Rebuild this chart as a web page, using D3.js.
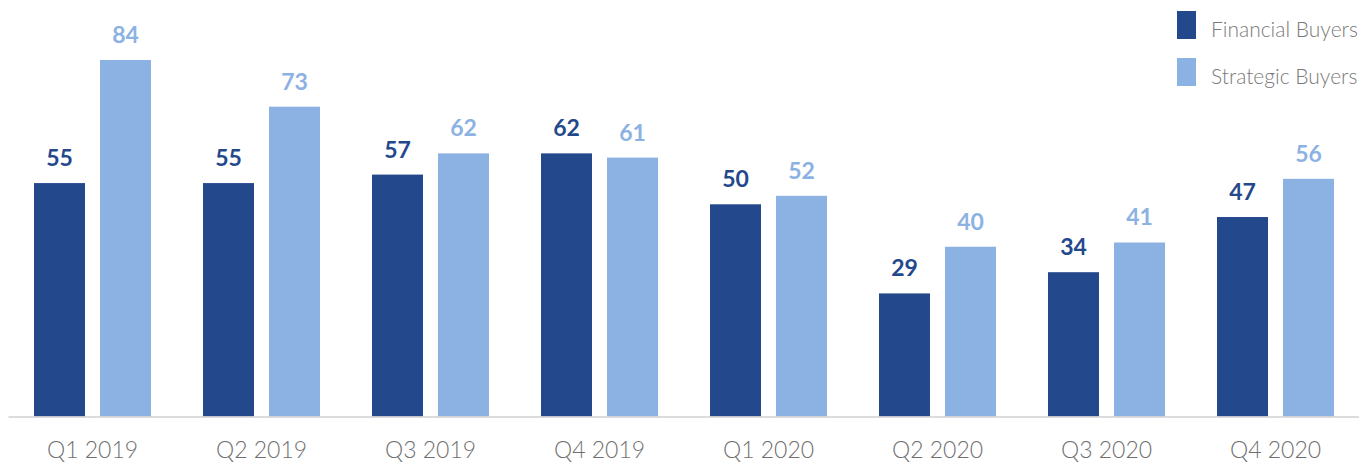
<!DOCTYPE html>
<html>
<head>
<meta charset="utf-8">
<script src="https://cdn.jsdelivr.net/npm/d3@7"></script>
<style>
  body { margin: 0; background: #fff; }
  svg { display: block; font-family: Lato, "Open Sans", sans-serif; }
</style>
</head>
<body>
<script>
var quarters = ["Q1 2019","Q2 2019","Q3 2019","Q4 2019","Q1 2020","Q2 2020","Q3 2020","Q4 2020"]
var seriesNames = ["Financial Buyers","Strategic Buyers"]
var financial = [55,55,57,62,50,29,34,47]
var strategic = [84,73,62,61,52,40,41,56]
var colors = ["#23488b","#8cb2e3"]

var width = 1359, height = 464
var baseY = 416.5

var svg = d3.select("body")
  .append("svg")
  .attr("width",width)
  .attr("height",height)

var rows = quarters.map(function(q,i){
  return {q:q, vals:[financial[i], strategic[i]]}
})

var x0 = d3.scaleBand()
  .domain(quarters)
  .range([8,1360])
  .paddingInner(52/169)
  .paddingOuter(26/169)

var x1 = d3.scaleBand()
  .domain([0,1])
  .range([0,x0.bandwidth()])
  .paddingInner(0.2273)

var y = d3.scaleLinear()
  .domain([0,84])
  .range([baseY,60])

var groups = svg.selectAll("g.grp")
  .data(rows)
  .enter()
  .append("g")
  .attr("class","grp")
  .attr("transform",function(d){ return "translate(" + x0(d.q) + ",0)" })

groups.selectAll("rect")
  .data(function(d){ return d.vals })
  .enter()
  .append("rect")
  .attr("x",function(d,i){ return x1(i) })
  .attr("y",function(d){ return y(d) })
  .attr("width",x1.bandwidth())
  .attr("height",function(d){ return baseY - y(d) })
  .attr("fill",function(d,i){ return colors[i] })

groups.selectAll("text")
  .data(function(d){ return d.vals })
  .enter()
  .append("text")
  .attr("x",function(d,i){ return x1(i) + x1.bandwidth()/2 })
  .attr("y",function(d){ return y(d) - 17 })
  .attr("text-anchor","middle")
  .attr("font-size",23)
  .attr("font-weight",700)
  .attr("fill",function(d,i){ return colors[i] })
  .text(function(d){ return d })

// x axis
var xAxis = d3.axisBottom(x0).tickSize(0).tickPadding(25)
var ax = svg.append("g").attr("transform","translate(0," + baseY + ")").call(xAxis)
ax.select(".domain").attr("stroke","#d0d0d0").attr("stroke-width",1.5)
ax.selectAll("text")
  .attr("font-family","Lato, sans-serif")
  .attr("font-size",23)
  .attr("font-weight",300)
  .attr("fill","#6f6f6f")

// legend
var legend = svg.selectAll("g.leg")
  .data(seriesNames)
  .enter()
  .append("g")
  .attr("class","leg")
  .attr("transform",function(d,i){ return "translate(1177," + (11 + i*47) + ")" })

legend.append("rect")
  .attr("width",19)
  .attr("height",28)
  .attr("fill",function(d,i){ return colors[i] })

legend.append("text")
  .attr("x",34)
  .attr("y",26)
  .attr("font-size",21)
  .attr("font-weight",300)
  .attr("fill","#7a7a7a")
  .text(function(d){ return d })
</script>
</body>
</html>
